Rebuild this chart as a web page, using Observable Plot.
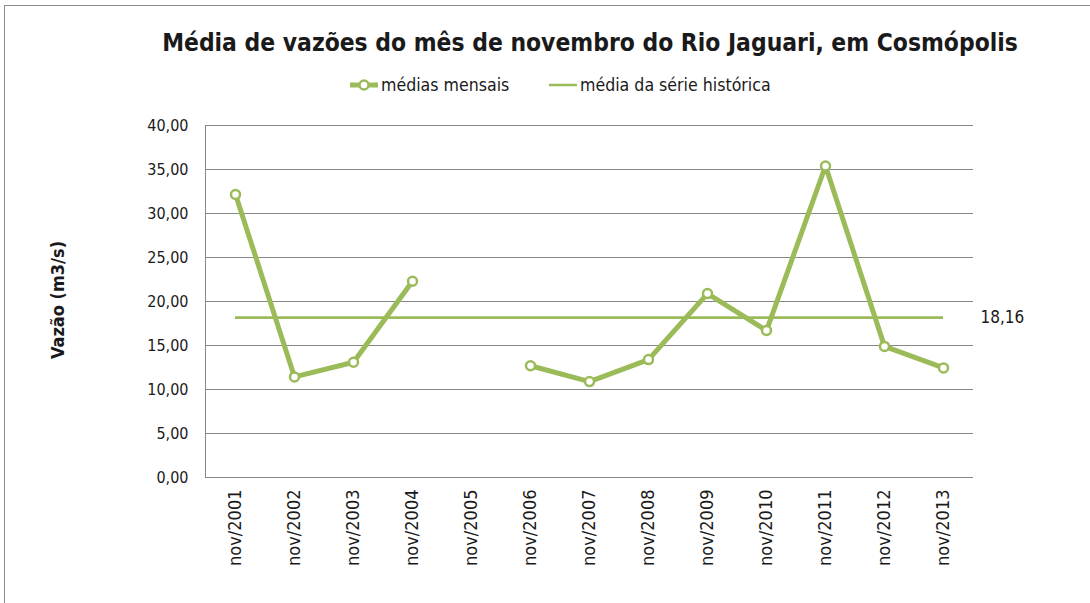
<!DOCTYPE html>
<html>
<head>
<meta charset="utf-8">
<script src="https://cdn.jsdelivr.net/npm/d3@7"></script>
<script src="https://cdn.jsdelivr.net/npm/@observablehq/plot@0.6"></script>
<style>
  html, body { margin: 0; padding: 0; background: #fff; }
  body { width: 1090px; height: 603px; position: relative; overflow: hidden;
         font-family: "DejaVu Sans Condensed", "Liberation Sans Narrow", "Liberation Sans", sans-serif; color: #1a1a1a; }
  #frame { position: absolute; left: 4px; top: 5px; right: -2px; bottom: -2px;
           border-left: 1px solid #8c8c8c; border-top: 1px solid #8c8c8c; }
  #title { position: absolute; left: 0; width: 1180px; top: 28px; text-align: center;
           font-weight: bold; font-size: 24.4px; line-height: 30px; white-space: nowrap; }
  #legend { position: absolute; left: 0; top: 74px; height: 22px; width: 1090px; font-size: 17.6px; line-height: 22px; }
  .lg { position: absolute; top: 0; white-space: nowrap; }
  .sw { position: absolute; top: 3px; }
  #ylabel { position: absolute; left: 57px; top: 300px; transform: translate(-50%, -50%) rotate(-90deg);
            font-weight: bold; font-size: 18px; white-space: nowrap; }
  #chart { position: absolute; left: 0; top: 100px; }
</style>
</head>
<body>
<div id="frame"></div>
<div id="title">Média de vazões do mês de novembro do Rio Jaguari, em Cosmópolis</div>
<div id="legend">
  <svg class="sw" style="left:348px" width="32" height="16"><line x1="2" y1="8" x2="30" y2="8" stroke="#9bbb59" stroke-width="5"/><circle cx="16" cy="8" r="4.5" fill="#fff" stroke="#9bbb59" stroke-width="2.5"/></svg>
  <span class="lg" style="left:381px">médias mensais</span>
  <svg class="sw" style="left:548px" width="32" height="16"><line x1="1" y1="8" x2="29" y2="8" stroke="#9bbb59" stroke-width="2.5"/></svg>
  <span class="lg" style="left:580px">média da série histórica</span>
</div>
<div id="ylabel">Vazão (m3/s)</div>
<div id="chart"></div>
<script>
const categories = ["nov/2001","nov/2002","nov/2003","nov/2004","nov/2005","nov/2006","nov/2007","nov/2008","nov/2009","nov/2010","nov/2011","nov/2012","nov/2013"];
const monthlyMeans = [32.16, 11.43, 13.1, 22.3, null, 12.7, 10.9, 13.4, 20.9, 16.7, 35.4, 14.9, 12.45];
const historicalMean = 18.16;
const yTicks = [0, 5, 10, 15, 20, 25, 30, 35, 40];

const green = "#9bbb59";
const fmt = d => d.toFixed(2).replace(".", ",");
const data = categories.map((c, i) => ({cat: c, v: monthlyMeans[i]}));

const chart = Plot.plot({
  width: 1090,
  height: 503,
  marginLeft: 205,
  marginRight: 117,
  marginTop: 25,
  marginBottom: 126,
  style: {fontFamily: '"DejaVu Sans Condensed", "Liberation Sans Narrow", "Liberation Sans", sans-serif', fontSize: "18px", color: "#1a1a1a", background: "transparent", overflow: "visible"},
  x: {type: "point", domain: categories, padding: 0.5, label: null},
  y: {domain: [0, 40], label: null},
  marks: [
    Plot.gridY(yTicks, {stroke: "#868686", strokeOpacity: 1, strokeWidth: 1}),
    Plot.frame({anchor: "left", stroke: "#868686"}),
    Plot.axisY(yTicks, {tickSize: 0, tickPadding: 17, tickFormat: fmt, label: null, fontSize: 16}),
    Plot.axisX({tickRotate: -90, tickSize: 0, tickPadding: 12, label: null}),
    Plot.ruleY([historicalMean], {y: d => d, x1: () => categories[0], x2: () => categories[categories.length - 1], stroke: green, strokeWidth: 2.8}),
    Plot.line(data, {x: "cat", y: "v", stroke: green, strokeWidth: 5}),
    Plot.dot(data, {x: "cat", y: "v", r: 4.5, fill: "#fff", stroke: green, strokeWidth: 2.5}),
    Plot.text([historicalMean], {y: d => d, frameAnchor: "right", dx: 7, textAnchor: "start", text: fmt, fontSize: 17, fill: "#1a1a1a"})
  ]
});
document.getElementById("chart").appendChild(chart);
</script>
</body>
</html>
